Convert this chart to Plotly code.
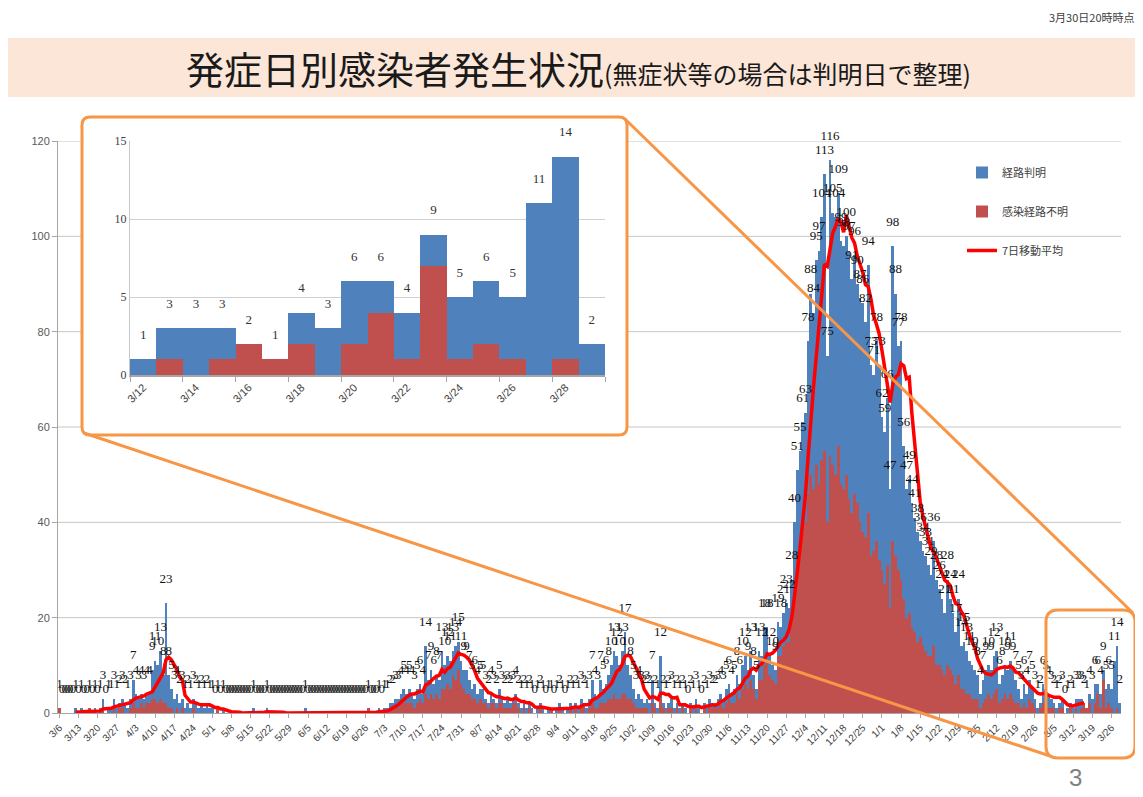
import pandas as pd
import plotly.graph_objects as go

# ---------------- Data (daily counts by onset date, 2020-03-06 .. 2021-03-29) ----------------
# total = 経路判明 + 感染経路不明 ; unk = 感染経路不明
total_mar20 = [1,0,0,0,0,0,1,0,1,0,0,1,0,1,0,1,3,0,1,1,3,1,2,3,2,1]
unk_mar20   = [1,0,0,0,0,0,0,0,0,0,0,1,0,0,0,0,1,0,0,0,1,0,1,1,0,0]
total_apr20 = [3,7,4,3,4,3,4,4,9,11,10,13,8,23,8,5,3,4,2,3,1,2,1,3,2,1,2,1,2,1]
unk_apr20   = [1,2,1,1,2,1,2,2,3,3,2,3,2,2,1,1,0,1,0,1,0,0,0,1,0,0,0,0,0,0]
total_may20 = [1,0,1,0,1,0,0,0,0,0,0,0,0,0,0,1,0,0,0,0,1,0,0,0,0,0,0,0,0,0,0]
unk_may20   = [0,0,1,0,0,0,0,0,0,0,0,0,0,0,0,0,0,0,0,0,0,0,0,0,0,0,0,0,0,0,0]
total_jun20 = [0,0,0,1,0,0,0,0,0,0,0,0,0,0,0,0,0,0,0,0,0,0,0,0,0,0,1,0,0,0]
unk_jun20   = [0,0,0,0,0,0,0,0,0,0,0,0,0,0,0,0,0,0,0,0,0,0,0,0,0,0,1,0,0,0]
total_jul20 = [1,0,1,1,2,2,3,3,4,5,4,5,4,3,5,6,4,14,7,9,6,8,7,13,10,12,11,13,14,15,11]
unk_jul20   = [0,0,0,0,1,1,1,1,2,2,2,2,2,1,2,3,2,4,3,4,3,4,3,5,5,6,5,8,7,9,6]
total_aug20 = [9,9,7,5,6,4,5,5,3,2,4,3,2,5,3,2,3,2,3,4,2,1,2,1,2,1,0,1,2,1,0]
unk_aug20   = [5,4,4,3,3,2,3,2,2,1,2,2,1,2,2,1,1,1,2,2,1,0,1,0,1,0,0,0,1,0,0]
total_sep20 = [1,1,0,1,2,1,0,1,2,1,2,1,3,2,1,3,7,4,3,7,5,6,8,10,13,12,10,13,17,10]
unk_sep20   = [0,1,0,0,1,0,0,0,1,0,1,0,1,1,0,1,2,1,1,2,2,2,3,3,4,3,3,4,4,3]
total_oct20 = [8,5,3,4,3,2,3,2,7,2,1,12,2,1,2,3,1,2,1,2,1,0,2,1,3,1,0,2,1,3,2]
unk_oct20   = [3,2,1,1,1,1,1,0,2,1,0,3,1,0,1,1,0,1,0,1,0,0,1,0,1,0,0,1,0,1,1]
total_nov20 = [2,3,4,3,5,6,4,5,8,6,10,12,9,13,8,5,13,12,18,18,12,10,9,19,18,21,23,22,28,40]
unk_nov20   = [1,1,2,1,2,3,2,2,4,3,5,6,5,7,5,3,7,7,10,11,8,7,6,12,12,14,15,15,19,26]
total_dec20 = [51,55,61,63,78,88,84,95,97,104,113,75,116,105,104,109,99,98,100,97,91,96,90,87,86,82,94,73,71,78,73]
unk_dec20   = [33,36,38,40,46,50,47,52,48,53,55,40,54,52,50,56,48,47,50,45,42,46,44,40,38,37,42,33,34,36,32]
total_jan21 = [62,59,66,47,98,88,77,78,56,47,49,44,41,38,36,34,33,31,29,36,28,26,24,21,28,24,21,17,24,14,15]
unk_jan21   = [30,27,31,22,36,33,30,28,24,20,21,18,17,15,16,14,13,12,12,14,10,10,9,8,10,9,8,6,8,5,5]
total_feb21 = [13,11,10,9,8,4,7,9,10,9,12,13,6,8,10,9,11,9,7,5,3,6,4,7,5,3,1,2]
unk_feb21   = [4,4,3,3,3,1,2,3,4,3,4,5,2,3,4,3,4,3,2,2,1,2,1,3,2,1,0,1]
total_mar21_early = [6,5,4,3,2,1,2,3,0,1,2]
unk_mar21_early   = [2,2,1,1,1,0,1,1,0,0,1]

# Inset (3/12 .. 3/29)
inset_dates   = ["3/12","3/13","3/14","3/15","3/16","3/17","3/18","3/19","3/20",
                 "3/21","3/22","3/23","3/24","3/25","3/26","3/27","3/28","3/29"]
inset_total   = [1,3,3,3,2,1,4,3,6,6,4,9,5,6,5,11,14,2]
inset_unknown = [0,1,0,1,2,1,2,0,2,4,1,7,1,2,1,0,1,0]

series_names = ["経路判明", "感染経路不明", "7日移動平均"]
ma_last_date = "2021-03-16"

total = (total_mar20 + total_apr20 + total_may20 + total_jun20 + total_jul20 + total_aug20 +
         total_sep20 + total_oct20 + total_nov20 + total_dec20 + total_jan21 + total_feb21 +
         total_mar21_early + inset_total)
unknown = (unk_mar20 + unk_apr20 + unk_may20 + unk_jun20 + unk_jul20 + unk_aug20 +
           unk_sep20 + unk_oct20 + unk_nov20 + unk_dec20 + unk_jan21 + unk_feb21 +
           unk_mar21_early + inset_unknown)
known = [t - u for t, u in zip(total, unknown)]
dates = pd.date_range("2020-03-06", periods=len(total), freq="D")
xs = list(range(len(total)))
ma = pd.Series(total, dtype=float).rolling(7).mean()
ma[dates > pd.Timestamp(ma_last_date)] = None
ma_vals = [None if pd.isna(v) else v for v in ma]
tick_idx = xs[::7]
tick_txt = [f"{dates[i].month}/{dates[i].day}" for i in tick_idx]

inset_known = [t - u for t, u in zip(inset_total, inset_unknown)]
ix = list(range(len(inset_dates)))

# ---------------- Layout geometry (reference-page pixels; page body has an 8px margin) ----------------
OFF = 8
W, H = 1143 - OFF, 797 - OFF
L, R, T, B = 58, 1121, 141, 713

def px(x):
    return (x - L) / (R - L)

def py(y):
    return (B - y) / (B - T)

BLUE, RED, LINE, ORANGE = "#4F81BD", "#C0504D", "#FF0000", "#F79646"
GRID, AXIS = "#C6C6C6", "#A6A6A6"

fig = go.Figure()

# main chart
fig.add_trace(go.Bar(x=xs, y=unknown, name=series_names[1], marker=dict(color=RED, line=dict(width=0)),
                     legendgroup="b", legendrank=2))
fig.add_trace(go.Bar(x=xs, y=known, name=series_names[0], marker=dict(color=BLUE, line=dict(width=0)),
                     legendgroup="a", legendrank=1))
fig.add_trace(go.Scatter(x=xs, y=ma_vals, name=series_names[2], mode="lines",
                         line=dict(color=LINE, width=3.5), legendgroup="c", legendrank=3))
fig.add_trace(go.Scatter(x=xs, y=total, text=[str(v) for v in total], mode="text",
                         texttemplate="%{text}<br> ", textposition="top center",
                         textfont=dict(family="Liberation Serif", size=13, color="#111111"),
                         cliponaxis=False, showlegend=False, hoverinfo="skip"))

# inset chart
fig.add_trace(go.Bar(x=ix, y=inset_unknown, xaxis="x2", yaxis="y2", showlegend=False,
                     marker=dict(color=RED, line=dict(width=0))))
fig.add_trace(go.Bar(x=ix, y=inset_known, xaxis="x2", yaxis="y2", showlegend=False,
                     marker=dict(color=BLUE, line=dict(width=0))))
fig.add_trace(go.Scatter(x=ix, y=inset_total, text=[str(v) for v in inset_total], mode="text",
                         texttemplate="%{text}<br> ", textposition="top center",
                         textfont=dict(family="Liberation Serif", size=13, color="#333333"),
                         xaxis="x2", yaxis="y2", cliponaxis=False, showlegend=False, hoverinfo="skip"))

shapes = []
# title band
shapes.append(dict(type="rect", xref="paper", yref="paper", x0=px(5), x1=px(1143), y0=py(97), y1=py(38),
                   fillcolor="#FCE6D8", line=dict(width=0), layer="below"))
# main gridlines (interrupted by the inset panel)
box1 = (82, 117, 627, 435)
for v in [20, 40, 60, 80, 100, 120]:
    ypix = B - v * (B - T) / 120
    if box1[1] <= ypix <= box1[3]:
        segs = [(L, box1[0]), (box1[2], R)]
    else:
        segs = [(L, R)]
    for a, b in segs:
        shapes.append(dict(type="line", xref="paper", yref="y", x0=px(a), x1=px(b), y0=v, y1=v,
                           line=dict(color=GRID, width=1), layer="below"))

def rrect(x0, y0, x1, y1, r):
    def P(x, y):
        return f"{px(x):.5f},{py(y):.5f}"
    return (f"M {P(x0 + r, y0)} L {P(x1 - r, y0)} Q {P(x1, y0)} {P(x1, y0 + r)} "
            f"L {P(x1, y1 - r)} Q {P(x1, y1)} {P(x1 - r, y1)} L {P(x0 + r, y1)} "
            f"Q {P(x0, y1)} {P(x0, y1 - r)} L {P(x0, y0 + r)} Q {P(x0, y0)} {P(x0 + r, y0)} Z")

shapes.append(dict(type="path", xref="paper", yref="paper", path=rrect(*box1, 8),
                   line=dict(color=ORANGE, width=3), layer="above"))
box2 = (1046, 610, 1135, 758)
shapes.append(dict(type="path", xref="paper", yref="paper", path=rrect(*box2, 12),
                   line=dict(color=ORANGE, width=3), layer="above"))
shapes.append(dict(type="line", xref="paper", yref="paper", x0=px(625), y0=py(119), x1=px(1133), y1=py(613),
                   line=dict(color=ORANGE, width=3), layer="above"))
shapes.append(dict(type="line", xref="paper", yref="paper", x0=px(84), y0=py(433), x1=px(1050), y1=py(756),
                   line=dict(color=ORANGE, width=3), layer="above"))

annotations = [
    dict(xref="paper", yref="paper", x=px(578), y=py(68), xanchor="center", yanchor="middle", showarrow=False,
         text="発症日別感染者発生状況<span style='font-size:25px'>(無症状等の場合は判明日で整理)</span>",
         font=dict(family="Noto Sans CJK JP", size=38, color="#1a1a1a")),
    dict(xref="paper", yref="paper", x=px(1137), y=py(17), xanchor="right", yanchor="middle", showarrow=False,
         text="3月30日20時時点", font=dict(family="Noto Sans CJK JP", size=11, color="#404040")),
    dict(xref="paper", yref="paper", x=px(1075), y=py(778), xanchor="center", yanchor="middle", showarrow=False,
         text="3", font=dict(family="Liberation Sans", size=24, color="#808080")),
]

fig.update_layout(
    width=W, height=H, autosize=False,
    margin=dict(l=L - OFF, r=(W + OFF) - R, t=T - OFF, b=(H + OFF) - B, pad=0),
    paper_bgcolor="white", plot_bgcolor="white",
    barmode="stack", bargap=0, hovermode=False,
    font=dict(family="Noto Sans CJK JP", color="#404040"),
    showlegend=True,
    legend=dict(x=px(962), y=py(158), xanchor="left", yanchor="top", bgcolor="rgba(0,0,0,0)",
                font=dict(family="Noto Sans CJK JP", size=11, color="#404040"),
                tracegroupgap=20, itemwidth=30),
    xaxis=dict(range=[-0.5, len(total) - 0.5], tickmode="array", tickvals=tick_idx, ticktext=tick_txt,
               tickangle=-45, tickfont=dict(family="Liberation Sans", size=10, color="#404040"),
               showgrid=False, zeroline=False, showline=True, linecolor=AXIS, linewidth=1,
               ticks="outside", ticklen=4, tickcolor=AXIS),
    yaxis=dict(range=[0, 120], tickmode="array", tickvals=[0, 20, 40, 60, 80, 100, 120],
               tickfont=dict(family="Liberation Sans", size=11, color="#595959"),
               showgrid=False, zeroline=False, showline=True, linecolor=AXIS, linewidth=1,
               ticks="outside", ticklen=5, tickcolor=AXIS),
    xaxis2=dict(domain=[px(130), px(605)], anchor="y2", range=[-0.5, len(ix) - 0.5],
                tickmode="array", tickvals=ix[::2], ticktext=inset_dates[::2], tickangle=-45,
                tickfont=dict(family="Liberation Sans", size=11, color="#404040"),
                showgrid=False, zeroline=False, showline=True, linecolor=AXIS, linewidth=1.5,
                ticks="",
                minor=dict(tick0=-0.5, dtick=2, ticks="outside", ticklen=5, tickcolor=AXIS)),
    yaxis2=dict(domain=[py(375), 1.0], anchor="x2", range=[0, 15], tickmode="array", tickvals=[0, 5, 10, 15],
                tickfont=dict(family="Liberation Serif", size=12, color="#404040"),
                showgrid=True, gridcolor="#D0D0D0", zeroline=False, showline=True, linecolor="#C8C8C8",
                ticks=""),
    shapes=shapes, annotations=annotations,
)

fig.write_html("out.html")
